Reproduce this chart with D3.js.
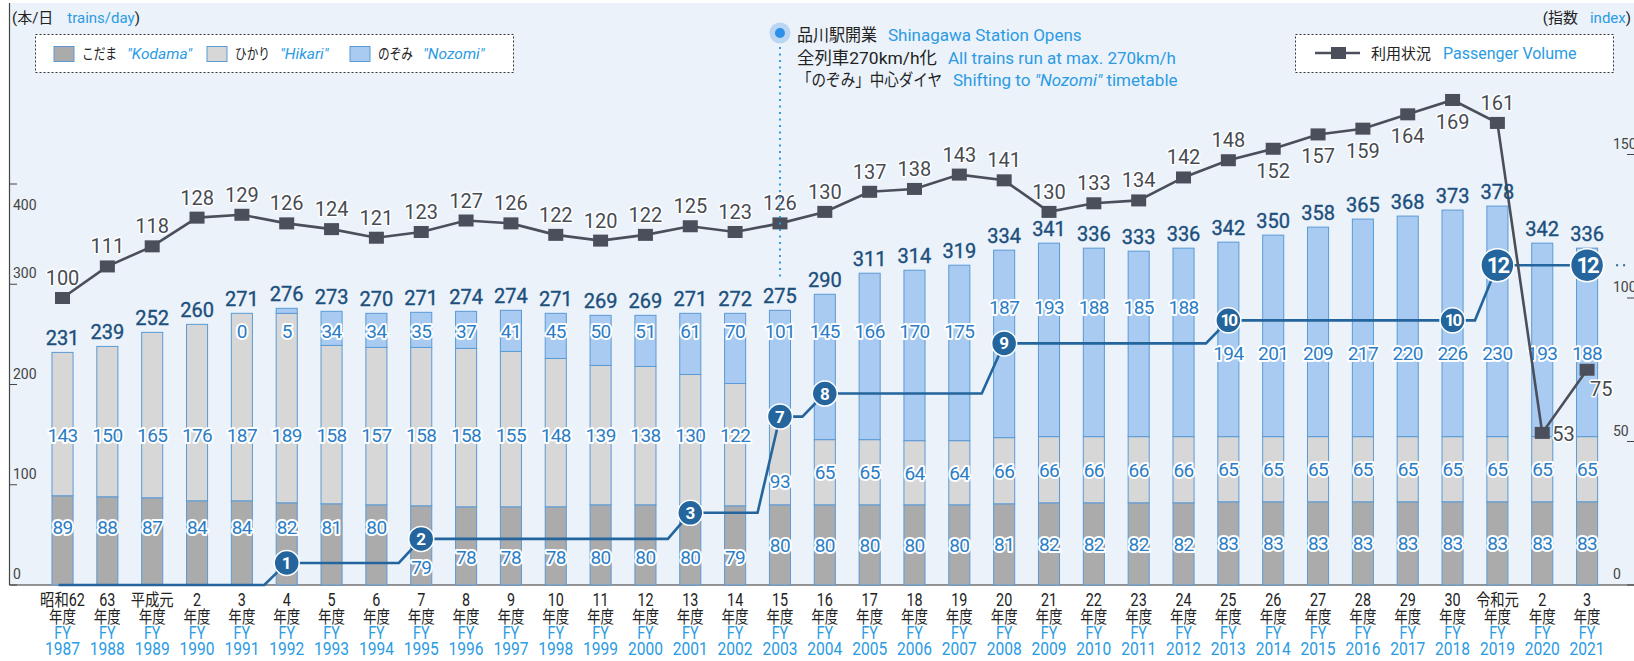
<!DOCTYPE html>
<html>
<head>
<meta charset="utf-8">
<script src="https://cdn.jsdelivr.net/npm/d3@7"></script>
<style>
  body { margin: 0; background: #fff; }
  svg { display: block; font-family: Roboto, "Noto Sans CJK JP", sans-serif; }
  .halo { paint-order: stroke; stroke: #fff; stroke-linejoin: round; }
</style>
</head>
<body>
<svg id="chart" width="1634" height="661"></svg>
<script>
// fiscal years and their japanese era labels
const fiscalYears = ["1987","1988","1989","1990","1991","1992","1993","1994","1995","1996",
  "1997","1998","1999","2000","2001","2002","2003","2004","2005","2006","2007","2008",
  "2009","2010","2011","2012","2013","2014","2015","2016","2017","2018","2019","2020","2021"];
const eraLabels = ["昭和62","63","平成元","2","3","4","5","6","7","8","9","10","11","12","13",
  "14","15","16","17","18","19","20","21","22","23","24","25","26","27","28","29","30",
  "令和元","2","3"];

// trains per day by type
const kodama = [89,88,87,84,84,82,81,80,79,78,78,78,80,80,80,79,80,80,80,80,80,81,82,82,82,82,83,83,83,83,83,83,83,83,83];
const hikari = [143,150,165,176,187,189,158,157,158,158,155,148,139,138,130,122,93,65,65,64,64,66,66,66,66,66,65,65,65,65,65,65,65,65,65];
const nozomi = [null,null,null,null,0,5,34,34,35,37,41,45,50,51,61,70,101,145,166,170,175,187,193,188,185,188,194,201,209,217,220,226,230,193,188];
const totals = [231,239,252,260,271,276,273,270,271,274,274,271,269,269,271,272,275,290,311,314,319,334,341,336,333,336,342,350,358,365,368,373,378,342,336];

// passenger volume index (1987 = 100)
const passenger = [100,111,118,128,129,126,124,121,123,127,126,122,120,122,125,123,126,130,137,138,143,141,130,133,134,142,148,152,157,159,164,169,161,53,75];

// numbered step line (level)
const stepYears = ["1992","1995","2001","2003","2004","2008","2013","2018","2019","2021"];
const stepCounts = [1,2,3,7,8,9,10,10,12,12];
const stepLevels = [22,46,72,168,191,241,264,264,319,319];

const leftTicks = [0,100,200,300,400];
const rightTicks = [0,50,100,150];

const W = 1634, H = 661, base = 585;
const C = {
  bg: "#EBF2FA", kodama: "#ABABAB", hikari: "#D7D7D7", nozomi: "#A9CBF1",
  barStroke: "#5B9AD5", total: "#1C4F7C", inner: "#2A7DC6", pass: "#4A4F5B",
  passText: "#474B52", step: "#23659C", blue: "#2B9BE3", axis: "#444"
};

const svg = d3.select("#chart");

const x = d3.scaleBand().domain(fiscalYears).range([40.1, 1609.5])
  .paddingInner(0.53).paddingOuter(0.265);
const cx = fy => x(fy) + x.bandwidth() / 2;
const yL = d3.scaleLinear().domain([0, 400]).range([base, 184]);
const yR = d3.scaleLinear().domain([0, 150]).range([base, 154.5]);

const rows = fiscalYears.map((fy, i) => ({
  fy, i, era: eraLabels[i], kodama: kodama[i], hikari: hikari[i],
  nozomi: nozomi[i] == null ? 0 : nozomi[i], hasNozomi: nozomi[i] != null,
  total: totals[i], passenger: passenger[i]
}));
const steps = stepYears.map((fy, i) => ({ fy, count: stepCounts[i], level: stepLevels[i] }));

function stepAt(i) {
  let lv = 0;
  steps.forEach(s => { if (fiscalYears.indexOf(s.fy) <= i) lv = s.level; });
  return lv;
}
function circleAt(i) { return steps.find(s => s.fy === fiscalYears[i]); }

// background
svg.append("rect").attr("x", 9.5).attr("y", 3).attr("width", W - 9.5).attr("height", base - 3)
  .attr("fill", C.bg);

// axes
svg.append("line").attr("x1", 9.5).attr("x2", 9.5).attr("y1", 3).attr("y2", base)
  .attr("stroke", C.axis).attr("stroke-width", 1.2);
svg.append("line").attr("x1", 9.5).attr("x2", W).attr("y1", base).attr("y2", base)
  .attr("stroke", "#333").attr("stroke-width", 1.2);

const topTick = leftTicks[leftTicks.length - 1];
const lt = svg.append("g").selectAll("g").data(leftTicks).join("g");
lt.append("line").attr("x1", 9.5).attr("x2", 17).attr("y1", d => yL(d)).attr("y2", d => yL(d))
  .attr("stroke", C.axis);
// the top label sits under its tick
lt.append("text").attr("x", 13).attr("y", d => d === topTick ? yL(d) + 26 : yL(d) - 6)
  .attr("font-size", 14).attr("fill", C.axis).text(d => d);

const rt = svg.append("g").selectAll("g").data(rightTicks).join("g");
rt.append("line").attr("x1", 1627).attr("x2", W).attr("y1", d => yR(d)).attr("y2", d => yR(d))
  .attr("stroke", C.axis);
rt.append("text").attr("x", 1613).attr("y", d => yR(d) - 6).attr("font-size", 14)
  .attr("fill", C.axis).text(d => d);

// stacked bars
const stacked = d3.stack().keys(["kodama", "hikari", "nozomi"])(rows);
const fills = { kodama: C.kodama, hikari: C.hikari, nozomi: C.nozomi };
svg.append("g").selectAll("g").data(stacked).join("g")
  .attr("fill", d => fills[d.key])
  .selectAll("rect").data(d => d.filter(s => s[1] - s[0] > 0)).join("rect")
  .attr("x", d => x(d.data.fy))
  .attr("width", x.bandwidth())
  .attr("y", d => yL(d[1]))
  .attr("height", d => yL(d[0]) - yL(d[1]))
  .attr("stroke", C.barStroke).attr("stroke-width", 1);

// in-bar labels, nudged away from the step line
function kodamaLabel(d) {
  const s = stepAt(d.i);
  const c = circleAt(d.i);
  if (s < 35) return 58;
  if (s < 100) return c && c.level < 60 ? 18 : 28;
  return d.kodama / 2;
}
function hikariLabel(d) {
  if (d.hikari >= 100) return 150;
  const c = circleAt(d.i);
  if (c && c.level - stepAt(d.i - 1) > 80) return d.kodama + d.hikari * 0.25;
  return d.kodama + d.hikari / 2;
}
function nozomiLabel(d) {
  const s = stepAt(d.i);
  if (s >= 260) return 231;
  if (s >= 225) return 277;
  return 253;
}
const inner = [
  { key: "kodama", pos: kodamaLabel },
  { key: "hikari", pos: hikariLabel },
  { key: "nozomi", pos: nozomiLabel }
];
const labelG = svg.append("g");
inner.forEach(k => {
  labelG.append("g").selectAll("text")
    .data(rows.filter(d => k.key !== "nozomi" || d.hasNozomi)).join("text")
    .attr("class", "halo")
    .attr("x", d => cx(d.fy))
    .attr("y", d => yL(k.pos(d)) + 7)
    .attr("text-anchor", "middle").attr("font-size", 19).attr("letter-spacing", -0.6)
    .attr("fill", C.inner).attr("stroke-width", 4)
    .text(d => d[k.key]);
});

// step line with numbered badges
const half = x.step() / 2;
const pts = [[cx(fiscalYears[0]) - 4, yL(0)]];
let prev = 0;
steps.forEach(s => {
  const sx = cx(s.fy);
  if (s.level !== prev) pts.push([sx - half, yL(prev)]);
  pts.push([sx, yL(s.level)]);
  prev = s.level;
});
svg.append("path").attr("d", d3.line()(pts)).attr("fill", "none")
  .attr("stroke", C.step).attr("stroke-width", 2.6);
const lastStep = steps[steps.length - 1];
svg.append("line")
  .attr("x1", cx(lastStep.fy) + 29).attr("x2", cx(lastStep.fy) + 42)
  .attr("y1", yL(lastStep.level)).attr("y2", yL(lastStep.level))
  .attr("stroke", C.step).attr("stroke-width", 2).attr("stroke-dasharray", "2,5");

const badge = svg.append("g").selectAll("g").data(steps).join("g")
  .attr("transform", d => `translate(${cx(d.fy)},${yL(d.level)})`);
badge.append("circle").attr("r", d => d.count >= 12 ? 16.5 : 12.5)
  .attr("fill", C.step).attr("stroke", "#fff").attr("stroke-width", 1.5);
badge.append("text").attr("text-anchor", "middle")
  .attr("y", d => d.count >= 12 ? 8 : 6)
  .attr("font-size", d => d.count >= 12 ? 22 : 17)
  .attr("letter-spacing", d => d.count >= 10 ? -2 : 0)
  .attr("font-weight", 700).attr("fill", "#fff")
  .text(d => d.count);

// passenger volume line
svg.append("path").datum(rows)
  .attr("d", d3.line().x(d => cx(d.fy)).y(d => yR(d.passenger)))
  .attr("fill", "none").attr("stroke", C.pass).attr("stroke-width", 2.6);
svg.append("g").selectAll("rect").data(rows).join("rect")
  .attr("x", d => cx(d.fy) - 7.5).attr("y", d => yR(d.passenger) - 6)
  .attr("width", 15).attr("height", 12).attr("fill", C.pass);

const belowYears = ["2014", "2015", "2016", "2017", "2018"];
function passPos(d) {
  const px = cx(d.fy), py = yR(d.passenger);
  if (d.fy === "2020") return { x: px + 10, y: py + 8, a: "start" };
  if (d.fy === "2021") return { x: px + 3, y: py + 26, a: "start" };
  if (belowYears.includes(d.fy)) return { x: px, y: py + 29, a: "middle" };
  return { x: px, y: py - 13, a: "middle" };
}
svg.append("g").selectAll("text").data(rows).join("text")
  .attr("class", "halo").attr("stroke-width", 3)
  .attr("x", d => passPos(d).x).attr("y", d => passPos(d).y)
  .attr("text-anchor", d => passPos(d).a)
  .attr("font-size", 20).attr("fill", C.passText)
  .text(d => d.passenger);

// totals above bars
svg.append("g").selectAll("text").data(rows).join("text")
  .attr("x", d => cx(d.fy))
  .attr("y", d => yL(d.kodama + d.hikari + d.nozomi) - 7)
  .attr("text-anchor", "middle").attr("font-size", 20)
  .attr("fill", C.total).attr("stroke", C.total).attr("stroke-width", 0.35)
  .text(d => d.total);

// x axis labels
const xl = svg.append("g").selectAll("g").data(rows).join("g")
  .attr("transform", d => `translate(${cx(d.fy)},0) scale(0.82,1)`)
  .attr("text-anchor", "middle");
xl.append("text").attr("y", 606).attr("font-size", 17.5).attr("fill", "#222").text(d => d.era);
xl.append("text").attr("y", 623).attr("font-size", 16.5).attr("fill", "#222").text("年度");
xl.append("text").attr("y", 639).attr("font-size", 17.5).attr("fill", C.blue).text("FY");
xl.append("text").attr("y", 655).attr("font-size", 19).attr("fill", C.blue).text(d => d.fy);

// unit captions
const ul = svg.append("text").attr("x", 12).attr("y", 23).attr("font-size", 15).attr("fill", "#222");
ul.append("tspan").text("(本/日");
ul.append("tspan").attr("dx", 14).attr("fill", C.blue).text("trains/day");
ul.append("tspan").text(")");
const ur = svg.append("text").attr("x", 1631).attr("y", 23).attr("font-size", 15)
  .attr("text-anchor", "end").attr("fill", "#222");
ur.append("tspan").text("(指数");
ur.append("tspan").attr("dx", 12).attr("fill", C.blue).text("index");
ur.append("tspan").text(")");

// bar legend
svg.append("rect").attr("x", 35.5).attr("y", 34.5).attr("width", 478).attr("height", 38)
  .attr("fill", "#fff").attr("stroke", "#333").attr("stroke-dasharray", "2,2");
const legendItems = [
  { key: "kodama", jp: "こだま", en: "\"Kodama\"", x: 54 },
  { key: "hikari", jp: "ひかり", en: "\"Hikari\"", x: 207 },
  { key: "nozomi", jp: "のぞみ", en: "\"Nozomi\"", x: 350 }
];
const lg = svg.append("g").selectAll("g").data(legendItems).join("g")
  .attr("transform", d => `translate(${d.x},0)`);
lg.append("rect").attr("y", 46.5).attr("width", 20).attr("height", 15)
  .attr("fill", d => fills[d.key]).attr("stroke", C.barStroke);
lg.append("text").attr("x", 28).attr("y", 59).attr("font-size", 15).attr("fill", "#222")
  .attr("textLength", 35).attr("lengthAdjust", "spacingAndGlyphs").text(d => d.jp);
lg.append("text").attr("x", 73).attr("y", 59).attr("font-size", 15.5).attr("font-style", "italic")
  .attr("fill", C.blue).text(d => d.en);

// passenger legend
svg.append("rect").attr("x", 1295.5).attr("y", 34.5).attr("width", 318).attr("height", 38)
  .attr("fill", "#fff").attr("stroke", "#333").attr("stroke-dasharray", "2,2");
svg.append("line").attr("x1", 1315).attr("x2", 1360).attr("y1", 53).attr("y2", 53)
  .attr("stroke", C.pass).attr("stroke-width", 2.6);
svg.append("rect").attr("x", 1331).attr("y", 47).attr("width", 15).attr("height", 12).attr("fill", C.pass);
svg.append("text").attr("x", 1371).attr("y", 59).attr("font-size", 15).attr("fill", "#222").text("利用状況");
svg.append("text").attr("x", 1443).attr("y", 59).attr("font-size", 16).attr("fill", C.blue).text("Passenger Volume");

// Shinagawa annotation
const ax = cx("2003");
svg.append("line").attr("x1", ax).attr("x2", ax).attr("y1", 47).attr("y2", yL(totals[16]) - 30)
  .attr("stroke", C.blue).attr("stroke-width", 2).attr("stroke-dasharray", "2,4.5");
svg.append("circle").attr("cx", ax).attr("cy", 33).attr("r", 10.5).attr("fill", "#BBD6F3");
svg.append("circle").attr("cx", ax).attr("cy", 33).attr("r", 5).attr("fill", "#2E90E8");
const notes = [
  { jp: "品川駅開業", w: 80, en: [["Shinagawa Station Opens", false]], ex: 888, y: 41 },
  { jp: "全列車270km/h化", w: 140, en: [["All trains run at max. 270km/h", false]], ex: 948, y: 64 },
  { jp: "「のぞみ」中心ダイヤ", w: 145, en: [["Shifting to ", false], ["\"Nozomi\"", true], [" timetable", false]], ex: 953, y: 86 }
];
notes.forEach(n => {
  svg.append("text").attr("x", 797).attr("y", n.y).attr("font-size", 17).attr("fill", "#222")
    .attr("textLength", n.w).attr("lengthAdjust", "spacingAndGlyphs").text(n.jp);
  const t = svg.append("text").attr("x", n.ex).attr("y", n.y).attr("font-size", 17).attr("fill", C.blue);
  n.en.forEach(([s, it]) => t.append("tspan").attr("font-style", it ? "italic" : null).text(s));
});
</script>
</body>
</html>
